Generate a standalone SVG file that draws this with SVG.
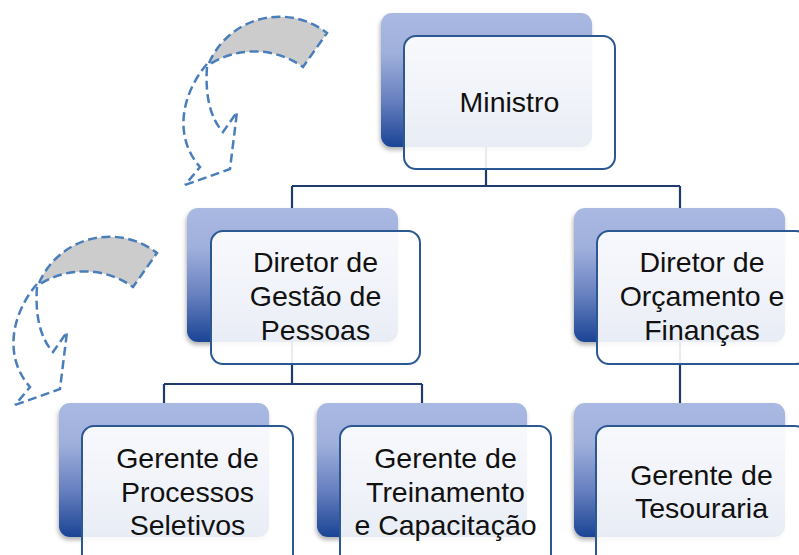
<svg xmlns="http://www.w3.org/2000/svg" width="799" height="555" viewBox="0 0 799 555">
<defs>
<linearGradient id="bg" x1="0" y1="0" x2="0" y2="1">
<stop offset="0" stop-color="#aab9e2"/>
<stop offset="0.3" stop-color="#a0b0dc"/>
<stop offset="0.65" stop-color="#6780c0"/>
<stop offset="1" stop-color="#1b4494"/>
</linearGradient>
<filter id="sh" x="-10%" y="-10%" width="120%" height="130%">
<feDropShadow dx="-1" dy="3" stdDeviation="2" flood-color="#000" flood-opacity="0.3"/>
</filter>
<g id="carrow">
<path class="band" d="M209,63 A77,77 0 0 1 327,33 L303,67 A84,84 0 0 0 210,64 Z"/>
<path class="dash" d="M207,64 C183,92 172,135 200,167 L185,185"/>
<path class="dash" d="M207,67 C205,95 210,118 223,132 L237,112 L230,169 L185,185"/>
</g>
</defs>
<style>
.back{fill:url(#bg);filter:url(#sh)}
.front{fill:#ffffff;fill-opacity:0.9;stroke:#2b5892;stroke-width:2}
.lbl{font-family:"Liberation Sans",Arial,sans-serif;font-size:28.5px;fill:#111;text-anchor:middle}
.conn{fill:none;stroke:#1f3b6e;stroke-width:2.2}
.band{fill:#cccccc;stroke:#4a7ebb;stroke-width:2.5;stroke-dasharray:9,4.5}
.dash{fill:none;stroke:#4a7ebb;stroke-width:2.5;stroke-dasharray:9,4.5}
</style>
<rect width="799" height="555" fill="#ffffff"/>
<g id="cycle-arrows">
<use href="#carrow"/>
<use href="#carrow" transform="translate(-170,220)"/>
</g>
<g id="connectors">
<path class="conn" d="M486,140 V186 M292,186 H680 M292,186 V208 M680,186 V208"/>
<path class="conn" d="M292,340 V384 M164,384 H422 M164,384 V403 M422,384 V403"/>
<path class="conn" d="M680,340 V403"/>
</g>
<g id="n-ministro">
<rect class="back" x="381" y="13" width="211" height="134" rx="11"/>
<rect class="front" x="404" y="36" width="211" height="133" rx="12"/>
<text class="lbl" x="509.5" y="112">Ministro</text>
</g>
<g id="n-gestao">
<rect class="back" x="187" y="208" width="211" height="134" rx="11"/>
<rect class="front" x="211" y="231" width="209" height="133" rx="12"/>
<text class="lbl" x="315.5" y="272">Diretor de</text>
<text class="lbl" x="315.5" y="306">Gestão de</text>
<text class="lbl" x="315.5" y="340">Pessoas</text>
</g>
<g id="n-orcamento">
<rect class="back" x="574" y="208" width="211" height="134" rx="11"/>
<rect class="front" x="597" y="231" width="211" height="133" rx="12"/>
<text class="lbl" x="702" y="272">Diretor de</text>
<text class="lbl" x="702" y="306">Orçamento e</text>
<text class="lbl" x="702" y="340">Finanças</text>
</g>
<g id="n-processos">
<rect class="back" x="59" y="403" width="210" height="134" rx="11"/>
<rect class="front" x="82" y="426" width="211" height="140" rx="12"/>
<text class="lbl" x="187.5" y="468">Gerente de</text>
<text class="lbl" x="187.5" y="502">Processos</text>
<text class="lbl" x="187.5" y="535">Seletivos</text>
</g>
<g id="n-treinamento">
<rect class="back" x="317" y="403" width="210" height="134" rx="11"/>
<rect class="front" x="340" y="426" width="211" height="140" rx="12"/>
<text class="lbl" x="445.5" y="468">Gerente de</text>
<text class="lbl" x="445.5" y="502">Treinamento</text>
<text class="lbl" x="445.5" y="535">e Capacitação</text>
</g>
<g id="n-tesouraria">
<rect class="back" x="574" y="403" width="211" height="134" rx="11"/>
<rect class="front" x="596" y="426" width="211" height="140" rx="12"/>
<text class="lbl" x="701.5" y="485">Gerente de</text>
<text class="lbl" x="701.5" y="518">Tesouraria</text>
</g>
</svg>
